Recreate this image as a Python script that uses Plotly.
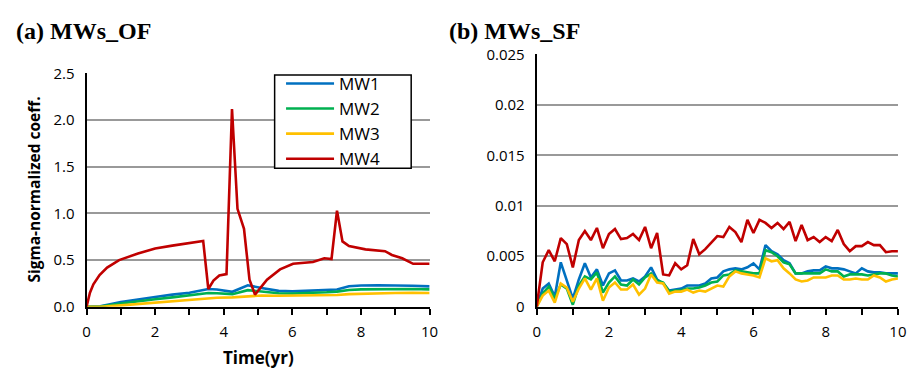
import plotly.graph_objects as go

# ---------------- data ----------------
series_names = ["MW1", "MW2", "MW3", "MW4"]
series_colors = ["#0070C0", "#00B050", "#FFC000", "#C00000"]

# (a) MWs_OF
of_t_smooth = [0, 0.4, 1.0, 1.5, 2.0, 2.5, 3.0, 3.55, 3.8, 4.25, 4.7, 5.1, 5.6, 6.0, 6.5, 7.0, 7.3, 7.65, 8.0, 8.5, 9.0, 9.5, 10.0]
of_mw1 = [0, 0.005, 0.05, 0.08, 0.105, 0.13, 0.15, 0.19, 0.185, 0.16, 0.23, 0.20, 0.17, 0.165, 0.17, 0.18, 0.185, 0.22, 0.228, 0.23, 0.23, 0.225, 0.218]
of_mw2 = [0, 0.003, 0.035, 0.06, 0.08, 0.10, 0.12, 0.148, 0.145, 0.135, 0.178, 0.16, 0.145, 0.142, 0.145, 0.155, 0.162, 0.18, 0.186, 0.19, 0.192, 0.19, 0.186]
of_mw3 = [0, 0.0, 0.015, 0.03, 0.045, 0.06, 0.075, 0.09, 0.097, 0.1, 0.108, 0.12, 0.118, 0.118, 0.12, 0.122, 0.125, 0.135, 0.14, 0.145, 0.148, 0.15, 0.148]

of_t_mw4 = [0, 0.1, 0.2, 0.38, 0.6, 0.95, 1.5, 2.0, 2.5, 3.0, 3.4, 3.55, 3.7, 3.87, 4.08, 4.24, 4.40, 4.59, 4.75, 4.91, 5.26, 5.64, 6.02, 6.6, 6.93, 7.14, 7.30, 7.46, 7.65, 8.13, 8.6, 8.7, 8.9, 9.2, 9.52, 10.0]
of_mw4 = [0, 0.15, 0.24, 0.34, 0.42, 0.50, 0.57, 0.625, 0.655, 0.68, 0.705, 0.19, 0.28, 0.335, 0.35, 2.12, 1.05, 0.835, 0.29, 0.13, 0.29, 0.40, 0.46, 0.48, 0.52, 0.51, 1.03, 0.70, 0.65, 0.615, 0.60, 0.595, 0.555, 0.52, 0.46, 0.46]

# (b) MWs_SF  (every 1/6 year, 61 points)
sf_t = [i / 6 for i in range(61)]
sf_mw1 = [0, 0.0018, 0.0023, 0.0010, 0.0044, 0.0026, 0.0008, 0.0027, 0.0043, 0.0029,
          0.0037, 0.0021, 0.0033, 0.0036, 0.0026, 0.0026, 0.0028, 0.0025, 0.0030, 0.0039,
          0.0027, 0.0023, 0.0016, 0.0017, 0.0018, 0.0021, 0.0021, 0.0021, 0.0023, 0.0028,
          0.0029, 0.0035, 0.0037, 0.0038, 0.0037, 0.0039, 0.0043, 0.0037, 0.0061, 0.0055,
          0.0052, 0.0046, 0.0043, 0.0033, 0.0033, 0.0035, 0.0036, 0.0036, 0.0040, 0.0038,
          0.0038, 0.0037, 0.0035, 0.0033, 0.0038, 0.0035, 0.0034, 0.0034, 0.0033, 0.0033, 0.0033]
sf_mw2 = [0, 0.0013, 0.0020, 0.0008, 0.0022, 0.0018, 0.0002, 0.0021, 0.0030, 0.0027,
          0.0034, 0.0014, 0.0024, 0.0030, 0.0022, 0.0021, 0.0027, 0.0022, 0.0029, 0.0033,
          0.0026, 0.0024, 0.0015, 0.0016, 0.0016, 0.0018, 0.0018, 0.0019, 0.0021, 0.0024,
          0.0025, 0.0031, 0.0032, 0.0036, 0.0035, 0.0034, 0.0033, 0.0033, 0.0056, 0.0054,
          0.0050, 0.0044, 0.0042, 0.0033, 0.0033, 0.0033, 0.0033, 0.0033, 0.0037, 0.0035,
          0.0035, 0.0030, 0.0032, 0.0032, 0.0032, 0.0031, 0.0032, 0.0033, 0.0033, 0.0031, 0.0030]
sf_mw3 = [0, 0.0011, 0.0016, 0.0004, 0.0023, 0.0019, 0.0005, 0.0018, 0.0028, 0.0017,
          0.0028, 0.0006, 0.0019, 0.0024, 0.0017, 0.0017, 0.0022, 0.0012, 0.0018, 0.0032,
          0.0024, 0.0023, 0.0013, 0.0015, 0.0015, 0.0017, 0.0014, 0.0016, 0.0015, 0.0018,
          0.0021, 0.0020, 0.0030, 0.0035, 0.0033, 0.0032, 0.0031, 0.0029, 0.0048, 0.0045,
          0.0046, 0.0038, 0.0033, 0.0027, 0.0025, 0.0026, 0.0029, 0.0029, 0.0029, 0.0031,
          0.0031, 0.0027, 0.0027, 0.0028, 0.0027, 0.0027, 0.0031, 0.0029, 0.0025, 0.0027, 0.0028]
sf_mw4 = [0, 0.0044, 0.0056, 0.0045, 0.0068, 0.0062, 0.0039, 0.0066, 0.0075, 0.0066,
          0.0078, 0.0058, 0.0072, 0.0077, 0.0067, 0.0068, 0.0072, 0.0066, 0.0079, 0.0058,
          0.0073, 0.0032, 0.0031, 0.0043, 0.0037, 0.0041, 0.0067, 0.0052, 0.0057, 0.0063,
          0.0070, 0.0069, 0.0079, 0.0074, 0.0064, 0.0086, 0.0073, 0.0086, 0.0083, 0.0078,
          0.0083, 0.0077, 0.0084, 0.0065, 0.0081, 0.0066, 0.0069, 0.0064, 0.0069, 0.0065,
          0.0076, 0.0062, 0.0055, 0.0060, 0.0060, 0.0064, 0.0061, 0.0061, 0.0054, 0.0055, 0.0055]

x_tickvals = list(range(0, 11))
x_ticktext = [str(v) if v % 2 == 0 else "" for v in x_tickvals]
of_y_tickvals = [0, 0.5, 1.0, 1.5, 2.0, 2.5]
of_y_ticktext = ["0.0", "0.5", "1.0", "1.5", "2.0", "2.5"]
sf_y_tickvals = [0, 0.005, 0.01, 0.015, 0.02, 0.025]
sf_y_ticktext = ["0", "0.005", "0.01", "0.015", "0.02", "0.025"]

# ---------------- figure ----------------
W, H = 924, 377
fig = go.Figure()

of_series = [(of_t_smooth, of_mw1), (of_t_smooth, of_mw2), (of_t_smooth, of_mw3), (of_t_mw4, of_mw4)]
for (t, y), name, col in zip(of_series, series_names, series_colors):
    fig.add_trace(go.Scatter(x=t, y=y, mode="lines", name=name,
                             line=dict(color=col, width=2.6), xaxis="x", yaxis="y"))

sf_series = [sf_mw1, sf_mw2, sf_mw3, sf_mw4]
for y, name, col in zip(sf_series, series_names, series_colors):
    fig.add_trace(go.Scatter(x=sf_t, y=y, mode="lines", name=name, showlegend=False,
                             line=dict(color=col, width=2.6), xaxis="x2", yaxis="y2"))

tick_font = dict(family="Open Sans, sans-serif", size=15, color="#000")
grid_col = "#999999"

def xaxis_cfg(domain):
    return dict(domain=domain, range=[0, 10], tickvals=x_tickvals, ticktext=x_ticktext,
                ticks="outside", ticklen=6, tickwidth=1.5, tickcolor="#000",
                ticklabelstandoff=4,
                showline=True, linecolor="#000", linewidth=2, showgrid=False,
                zeroline=False, tickfont=tick_font, fixedrange=True)

def yaxis_cfg(domain, anchor, rng, tv, tt):
    return dict(domain=domain, anchor=anchor, range=rng, tickvals=tv, ticktext=tt,
                showline=True, linecolor="#000", linewidth=2, showgrid=True,
                gridcolor=grid_col, gridwidth=2, zeroline=False, ticks="",
                ticklabelstandoff=7, tickfont=tick_font, fixedrange=True)

y0 = (H - 312.3) / H
fig.update_layout(
    width=W, height=H,
    margin=dict(l=0, r=0, t=0, b=0),
    paper_bgcolor="white", plot_bgcolor="white",
    xaxis=dict(**xaxis_cfg([83.7 / W, 431.7 / W]), anchor="y"),
    yaxis=yaxis_cfg([y0, (H - 66) / H], "x", [0, 2.5], of_y_tickvals, of_y_ticktext),
    xaxis2=dict(**xaxis_cfg([540.3 / W, 906.7 / W]), anchor="y2"),
    yaxis2=yaxis_cfg([y0, (H - 45.7) / H], "x2", [0, 0.025], sf_y_tickvals, sf_y_ticktext),
    legend=dict(x=281 / W, y=(H - 58) / H, xanchor="left", yanchor="top",
                bgcolor="rgba(0,0,0,0)", borderwidth=0,
                font=dict(family="Open Sans, sans-serif", size=17, color="#000"),
                itemwidth=48, tracegroupgap=0),
    showlegend=True,
)

# legend frame (white box with black border, drawn under the legend entries)
fig.add_shape(type="rect", xref="paper", yref="paper",
              x0=274.5 / W, x1=413 / W, y0=(H - 166) / H, y1=(H - 67.5) / H,
              line=dict(color="#000", width=1.5), fillcolor="white", layer="above")

title_font = dict(family="Liberation Serif, Times New Roman, serif", size=24, color="#000")
fig.add_annotation(text="<b>(a) MWs_OF</b>", xref="paper", yref="paper",
                   x=10 / W, y=(H - 21) / H, xanchor="left", yanchor="middle",
                   showarrow=False, font=title_font)
fig.add_annotation(text="<b>(b) MWs_SF</b>", xref="paper", yref="paper",
                   x=449 / W, y=(H - 21) / H, xanchor="left", yanchor="middle",
                   showarrow=False, font=title_font)
fig.add_annotation(text="<b>Time(yr)</b>", xref="paper", yref="paper",
                   x=258 / W, y=(H - 366) / H, xanchor="center", yanchor="middle",
                   showarrow=False, font=dict(family="Open Sans, sans-serif", size=17, color="#000"))
fig.add_annotation(text="<b>Sigma-normalized coeff.</b>", xref="paper", yref="paper",
                   x=30 / W, y=(H - 189) / H, xanchor="center", yanchor="middle", textangle=-90,
                   showarrow=False, font=dict(family="Open Sans, sans-serif", size=15.5, color="#000"))

fig.write_html("out.html")
